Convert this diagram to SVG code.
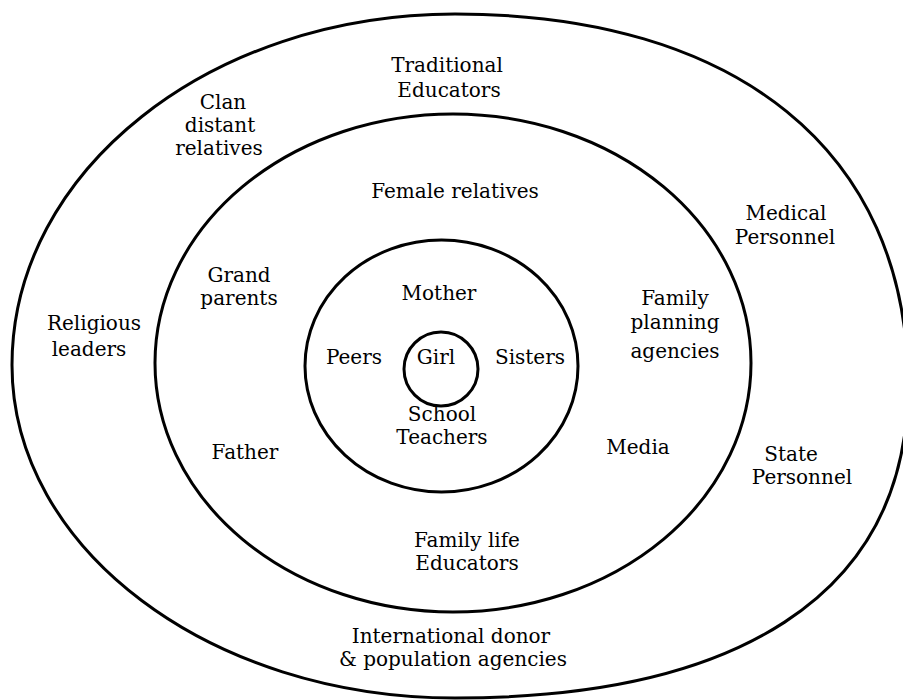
<svg xmlns="http://www.w3.org/2000/svg" width="903" height="700" viewBox="0 0 903 700">
<style>
.ring{fill:none;stroke:#000;stroke-width:3}
text{font-family:"DejaVu Serif","Liberation Serif",serif;font-size:20px;fill:#000;text-anchor:middle}
</style>
<rect width="903" height="700" fill="#fff"/>
<g id="rings">
<path id="outer" class="ring" d="M455,14 C735,14 908,150 908,385 C908,600 730,698 455,698 C210,698 12,549 12,365 C12,171 210,14 455,14 Z"/>
<ellipse id="middle" class="ring" cx="453" cy="363" rx="298" ry="249"/>
<ellipse id="inner" class="ring" cx="441.5" cy="366" rx="136.5" ry="126"/>
</g>
<g id="girl">
<circle class="ring" cx="441" cy="369" r="37"/>
<text x="436" y="364">Girl</text>
</g>
<g id="ring1-labels">
<text id="mother" x="439" y="300">Mother</text>
<text id="peers" x="354" y="364">Peers</text>
<text id="sisters" x="530" y="364">Sisters</text>
<text id="teachers" x="442"><tspan x="442" y="421">School</tspan><tspan x="442" y="444">Teachers</tspan></text>
</g>
<g id="ring2-labels">
<text id="female" x="455" y="198">Female relatives</text>
<text id="grand"><tspan x="239" y="282">Grand</tspan><tspan x="239" y="305">parents</tspan></text>
<text id="fp"><tspan x="675" y="305">Family</tspan><tspan x="675" y="329">planning</tspan><tspan x="675" y="358">agencies</tspan></text>
<text id="father" x="245" y="459">Father</text>
<text id="media" x="638" y="454">Media</text>
<text id="fle"><tspan x="467" y="547">Family life</tspan><tspan x="467" y="570">Educators</tspan></text>
</g>
<g id="ring3-labels">
<text id="trad"><tspan x="447" y="72">Traditional</tspan><tspan x="449" y="97">Educators</tspan></text>
<text id="clan"><tspan x="223" y="109">Clan</tspan><tspan x="220" y="132">distant</tspan><tspan x="219" y="155">relatives</tspan></text>
<text id="medical"><tspan x="786" y="220">Medical</tspan><tspan x="785" y="244">Personnel</tspan></text>
<text id="religious"><tspan x="94" y="330">Religious</tspan><tspan x="89" y="356">leaders</tspan></text>
<text id="state"><tspan x="791" y="461">State</tspan><tspan x="802" y="484">Personnel</tspan></text>
<text id="intl"><tspan x="451" y="643">International donor</tspan><tspan x="453" y="666">&amp; population agencies</tspan></text>
</g>
</svg>
